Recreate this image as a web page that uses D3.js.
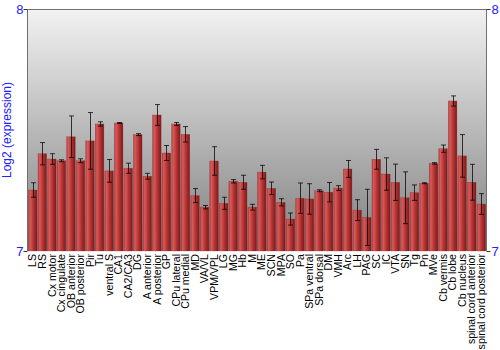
<!DOCTYPE html>
<html><head><meta charset="utf-8">
<script src="https://cdn.jsdelivr.net/npm/d3@7"></script>
<style>body{margin:0;background:#fff}svg{display:block}text{font-family:"Liberation Sans",Arial,sans-serif}</style>
</head><body><svg id="c" width="500" height="350"></svg>
<script>
const categories = ["LS","RS","Cx motor","Cx cingulate","OB anterior","OB posterior","Pir","Tu","ventral S","CA1","CA2/CA3","DG","A anterior","A posterior","GP","CPu lateral","CPu medial","MD","VA/VL","VPM/VPL","LG","MG","Hb","M","ME","SCN","MPA","SO","Pa","SPa ventral","SPa dorsal","DM","VMH","Arc","LH","PAG","SC","IC","VTA","SN","Tg","Pn","MVe","Cb vermis","Cb lobe","Cb nucleus","spinal cord anterior","spinal cord posterior"];
const values = [7.252,7.402,7.380,7.373,7.472,7.373,7.455,7.525,7.331,7.529,7.342,7.481,7.309,7.562,7.405,7.525,7.482,7.229,7.181,7.372,7.197,7.288,7.284,7.181,7.326,7.259,7.201,7.132,7.218,7.215,7.249,7.243,7.260,7.339,7.169,7.139,7.379,7.318,7.284,7.220,7.241,7.280,7.362,7.423,7.620,7.393,7.284,7.194];
const errors = [0.030,0.046,0.022,0.004,0.086,0.008,0.117,0.009,0.047,0.002,0.021,0.004,0.012,0.043,0.031,0.006,0.032,0.029,0.007,0.059,0.025,0.007,0.029,0.012,0.028,0.026,0.015,0.025,0.063,0.063,0.004,0.040,0.010,0.035,0.043,0.116,0.041,0.067,0.075,0.107,0.032,0.002,0.003,0.015,0.021,0.088,0.074,0.043];
const yTicks = [7, 8];
const yLabel = "Log2 (expression)";

const svg = d3.select("#c");
const L = 27, R = 486, T = 9, B = 251;
const x = d3.scaleBand().domain(categories).range([L+1, R]).paddingInner(0.1).paddingOuter(0.05);
const y = d3.scaleLinear().domain([7, 8]).range([B, T]);

const defs = svg.append("defs");
const bg = defs.append("linearGradient").attr("id","bg").attr("x1",0).attr("y1",0).attr("x2",0).attr("y2",1);
bg.append("stop").attr("offset","0%").attr("stop-color","#f2f2f2");
bg.append("stop").attr("offset","100%").attr("stop-color","#808080");
const bar = defs.append("linearGradient").attr("id","bar").attr("x1",0).attr("y1",0).attr("x2",1).attr("y2",0);
bar.append("stop").attr("offset","0%").attr("stop-color","#b84040");
bar.append("stop").attr("offset","20%").attr("stop-color","#d65a5a");
bar.append("stop").attr("offset","55%").attr("stop-color","#b83434");
bar.append("stop").attr("offset","100%").attr("stop-color","#7c1a1a");

svg.append("rect").attr("x",L).attr("y",T).attr("width",R-L).attr("height",B-T).attr("fill","url(#bg)");

svg.append("g").selectAll("rect").data(categories).join("rect")
  .attr("x",d=>x(d)).attr("width",x.bandwidth())
  .attr("y",(d,i)=>y(values[i])).attr("height",(d,i)=>y(7)-y(values[i]))
  .attr("fill","url(#bar)").attr("stroke","#8a2020").attr("stroke-opacity",0.5).attr("stroke-width",0.5);

const eg = svg.append("g").attr("stroke","#000").attr("stroke-opacity",0.75).attr("stroke-width",1);
categories.forEach((c,i)=>{
  const cx = Math.round(x(c)+x.bandwidth()/2)+0.5;
  const y1 = y(values[i]+errors[i]), y2 = y(values[i]-errors[i]);
  eg.append("line").attr("x1",cx).attr("x2",cx).attr("y1",y1).attr("y2",y2);
  eg.append("line").attr("x1",cx-2.5).attr("x2",cx+2.5).attr("y1",y1).attr("y2",y1);
  eg.append("line").attr("x1",cx-2.5).attr("x2",cx+2.5).attr("y1",y2).attr("y2",y2);
});

// frame
svg.append("path").attr("d",`M${L+0.5},${B}V${T+0.5}H${R+0.5}V${B}`).attr("fill","none").attr("stroke","#707070").attr("stroke-width",1);

// axes
const yl = svg.append("g").attr("transform",`translate(${L+0.5},0)`)
  .call(d3.axisLeft(y).tickValues(yTicks).tickSize(4).tickSizeOuter(0).tickFormat(d3.format("d")));
yl.select(".domain").remove();
yl.selectAll("line").attr("stroke","#333");
yl.selectAll("text").attr("fill","#2020ff").attr("font-size",13).attr("x",-4);
const yr = svg.append("g").attr("transform",`translate(${R+0.5},0)`)
  .call(d3.axisRight(y).tickValues(yTicks).tickSize(4).tickSizeOuter(0).tickFormat(d3.format("d")));
yr.select(".domain").remove();
yr.selectAll("line").attr("stroke","#333");
yr.selectAll("text").attr("fill","#2020ff").attr("font-size",13).attr("x",5);

svg.append("text").attr("transform",`translate(11,${(T+B)/2}) rotate(-90)`)
  .attr("text-anchor","middle").attr("fill","#2020ff").attr("font-size",12).text(yLabel);

const xa = svg.append("g").attr("transform",`translate(0,${B})`).call(d3.axisBottom(x).tickSize(0));
xa.select(".domain").remove();
xa.selectAll("text").attr("font-size",10.6).attr("fill","#000")
  .attr("transform","rotate(-90)").attr("text-anchor","end").attr("dy","0.35em").attr("x",-3).attr("y",0);
</script></body></html>
